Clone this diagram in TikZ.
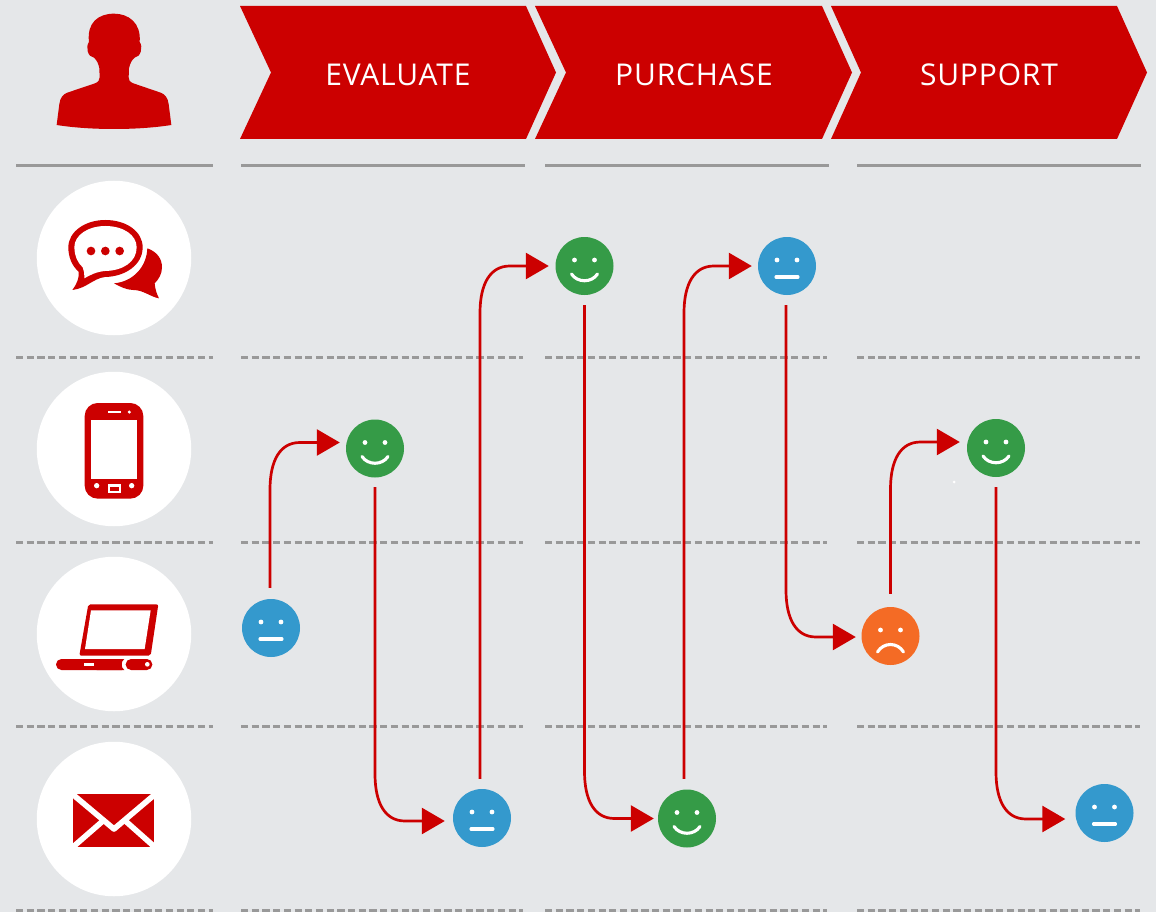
\documentclass[tikz,border=0pt]{standalone}
\usepackage{fontspec}
\setmainfont{Open Sans}[LetterSpace=2.8]
\usetikzlibrary{arrows.meta,calc}
\definecolor{bg}{HTML}{E5E7E9}
\definecolor{brand}{HTML}{CC0000}
\definecolor{rulegray}{HTML}{999999}
\definecolor{happy}{HTML}{359B47}
\definecolor{neutral}{HTML}{3499CD}
\definecolor{sad}{HTML}{F46B25}
\tikzset{
  solidrule/.style={rulegray,line width=3pt},
  dashrule/.style={rulegray,line width=3pt,dash pattern=on 7.2pt off 3.5pt},
  iconcircle/.style={circle,fill=white,minimum size=154.5pt,inner sep=0pt},
  face/.style={circle,minimum size=58pt,inner sep=0pt},
  mouth/.style={white,line width=3.1pt,line cap=round},
  conn/.style={brand,line width=2.7pt,-{Triangle[length=23pt,width=26pt]}},
  stage/.style={text=white,font=\fontsize{30}{36}\selectfont,inner sep=0pt},
  chev/.style={fill=brand},
}
\newcommand\facebase[4]{%
  \node[face,fill=#4] (#1) at (#2,#3) {};
  \fill[white] (#2-10,#3-6) circle (2.4pt) (#2+10,#3-6) circle (2.4pt);}
\newcommand\happyface[3]{\facebase{#1}{#2}{#3}{happy}
  \draw[mouth] (#2-13,#3+8) .. controls (#2-7,#3+17) and (#2+7,#3+17) .. (#2+13,#3+8);}
\newcommand\neutralface[3]{\facebase{#1}{#2}{#3}{neutral}
  \draw[mouth] (#2-11,#3+11) -- (#2+11,#3+11);}
\newcommand\sadface[3]{\facebase{#1}{#2}{#3}{sad}
  \draw[mouth] (#2-13,#3+16) .. controls (#2-7,#3+6) and (#2+7,#3+6) .. (#2+13,#3+16);}
% #1 from, #2 to, #3 x offset of start, #4 gap at start, #5 x shift of tip, #6 y shift of tip
\newcommand\connup[6]{%
  \coordinate (s) at ([xshift=#3pt,yshift=#4pt]#1.north);
  \coordinate (e) at ([xshift=#5pt,yshift=#6pt]#2.west);
  \draw[conn] (s) -- ($(s|-e)+(0,47)$) .. controls ($(s|-e)+(0,18)$) and ($(s|-e)+(10,0)$) .. ($(s|-e)+(30,0)$) -- (e);}
\newcommand\conndown[6]{%
  \coordinate (s) at ([xshift=#3pt,yshift=-#4pt]#1.south);
  \coordinate (e) at ([xshift=#5pt,yshift=#6pt]#2.west);
  \draw[conn] (s) -- ($(s|-e)+(0,-47)$) .. controls ($(s|-e)+(0,-18)$) and ($(s|-e)+(10,0)$) .. ($(s|-e)+(30,0)$) -- (e);}
\begin{document}
\begin{tikzpicture}[x=1pt,y=-1pt]
\useasboundingbox (0,0) rectangle (1156,912);
\fill[bg] (0,0) rectangle (1156,912);
% chevrons
\fill[chev] (240,6)--(526,6)--(556,72.5)--(526,139)--(240,139)--(271,72.5)--cycle;
\fill[chev] (535,6)--(822,6)--(852,72.5)--(822,139)--(535,139)--(566,72.5)--cycle;
\fill[chev] (831,6)--(1117,6)--(1147,72.5)--(1117,139)--(831,139)--(861,72.5)--cycle;
\node[stage] (evaluate) at (398,75) {EVALUATE};
\node[stage] (purchase) at (694,75) {PURCHASE};
\node[stage] (support) at (989,75) {SUPPORT};
% rules
\foreach \a/\b in {16/213,241/525,545/829,857/1141}
  \draw[solidrule] (\a,165.5) -- (\b,165.5);
\foreach \y in {357,542,726,910}
  \foreach \a/\b in {16/213,241/523,545/827,857/1140}
    \draw[dashrule] (\a,\y) -- (\b,\y);
% icon circles
\node[iconcircle] (chat) at (114,258) {};
\node[iconcircle] (phone) at (114,449) {};
\node[iconcircle] (laptop) at (114,634) {};
\node[iconcircle] (mail) at (114,819) {};
% person
\begin{scope}[shift={(30,0)},scale=1/3]
\fill[brand] (80,375) .. controls (180,391) and (324,391) .. (424,375)
  -- (416,312) .. controls (413,292) and (405,283) .. (392,278)
  -- (310,250) .. controls (298,245) and (296,240) .. (296,232)
  -- (297,205) .. controls (300,190) and (307,178) .. (314,173)
  .. controls (332,172) and (340,140) .. (329,126)
  .. controls (334,68) and (295,41) .. (252,41)
  .. controls (205,41) and (170,68) .. (177,126)
  .. controls (166,140) and (173,172) .. (192,173)
  .. controls (200,180) and (206,192) .. (208,205)
  -- (209,232) .. controls (209,240) and (205,246) .. (195,250)
  -- (112,278) .. controls (99,283) and (91,292) .. (88,312) -- cycle;
% chat
\fill[brand] (127,870) .. controls (142,850) and (148,832) .. (146,815)
  .. controls (125,797) and (115,770) .. (115,742)
  .. controls (115,695) and (165,660) .. (226,660)
  .. controls (290,660) and (338,695) .. (338,742)
  .. controls (338,795) and (285,830) .. (225,831)
  .. controls (190,835) and (170,865) .. (127,870) -- cycle;
\fill[white] (163,835) .. controls (163,820) and (162,810) .. (158,802)
  .. controls (142,788) and (133,765) .. (133,742)
  .. controls (133,705) and (175,678) .. (226,678)
  .. controls (280,678) and (320,705) .. (320,742)
  .. controls (320,785) and (280,812) .. (225,813)
  .. controls (200,815) and (180,825) .. (163,835) -- cycle;
\fill[brand] (183,753) circle (13) (226,753) circle (13) (269,753) circle (13);
\fill[brand] (352,745) .. controls (380,755) and (396,775) .. (396,802)
  .. controls (396,822) and (386,838) .. (374,850)
  .. controls (375,865) and (380,882) .. (387,895)
  .. controls (360,890) and (340,870) .. (310,870)
  .. controls (290,870) and (270,860) .. (252,850)
  .. controls (310,845) and (350,800) .. (352,745) -- cycle;
\end{scope}
% phone
\begin{scope}[shift={(30,380)},scale=1/3]
\fill[brand,rounded corners=13pt] (164,69) rectangle (340,356);
\fill[white] (183,120) rectangle (321,297);
\fill[white] (234,93) rectangle (273,99);
\fill[white] (298,96) circle (5) (200,317) circle (8) (305,317) circle (8);
\fill[white] (234,313) rectangle (272,339);
\fill[brand] (240,320) rectangle (266,332);
% laptop
\fill[brand,rounded corners=2pt] (175,673) -- (385,673) -- (362,827) -- (148,827) -- cycle;
\fill[white] (183,691) -- (362,691) -- (344,807) -- (165,807) -- cycle;
\fill[brand,rounded corners=5.4pt] (78,837) rectangle (300,870);
\fill[white] (275,832) rectangle (305,875);
\fill[brand] (283,837) .. controls (272,845) and (272,862) .. (283,870) -- (200,870) -- (200,837) -- cycle;
\fill[brand,rounded corners=5.4pt] (287,837) rectangle (367,870);
\fill[white] (162,849) rectangle (192,858);
\fill[white] (352,853) circle (7);
\end{scope}
% envelope
\begin{scope}[shift={(30,740)},scale=1/3]
\fill[brand] (130,162) rectangle (373,320);
\draw[white,line width=5.6pt,line join=round] (122,158) -- (252,267) -- (381,158);
\draw[white,line width=5.6pt] (122,327) -- (222,240);
\draw[white,line width=5.6pt] (381,327) -- (283,240);
\end{scope}
% faces
\neutralface{f1}{271}{628}
\happyface{f2}{375}{448.5}
\neutralface{f3}{482}{818}
\happyface{f4}{584.5}{266}
\happyface{f5}{687}{818.5}
\neutralface{f6}{787}{266}
\sadface{f7}{890.5}{636}
\happyface{f8}{996}{448}
\neutralface{f9}{1104.5}{813}
\fill[white] (954,482) circle (1.5);
% connectors
\connup{f1}{f2}{-1}{11}{-6}{6}
\conndown{f2}{f3}{0}{9.5}{-8}{-3}
\connup{f3}{f4}{-2}{10}{-6.5}{0}
\conndown{f4}{f5}{0}{10}{-4}{0}
\connup{f5}{f6}{-3}{10.5}{-6}{0}
\conndown{f6}{f7}{-1}{10}{-5.5}{-1}
\connup{f7}{f8}{0}{13}{-7}{6}
\conndown{f8}{f9}{0}{10}{-10}{-6}
\end{tikzpicture}
\end{document}
